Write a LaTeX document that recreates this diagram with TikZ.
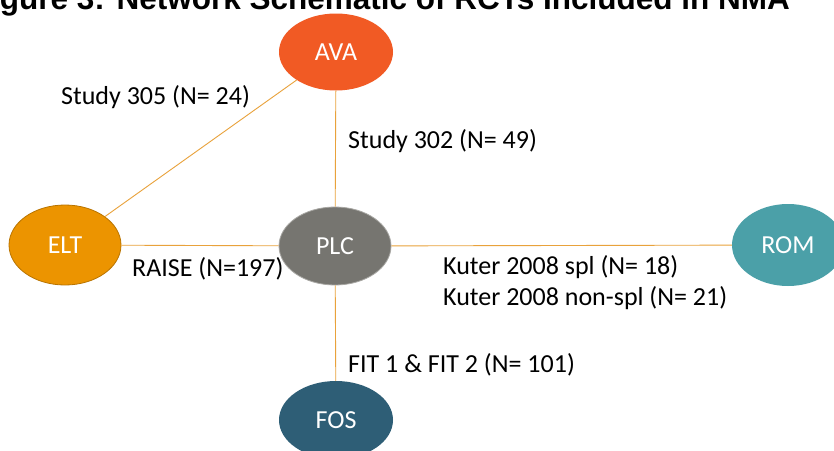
\documentclass[tikz,border=0pt]{standalone}
\usepackage{fontspec}
\setmainfont{Carlito}
\newfontfamily\titlefont{Liberation Sans}
\usetikzlibrary{shapes.geometric}
\definecolor{cAVA}{HTML}{F15A24}
\definecolor{cELT}{HTML}{EC9400}
\definecolor{cELTb}{HTML}{B97400}
\definecolor{cPLC}{HTML}{767570}
\definecolor{cPLCb}{HTML}{A8A7A3}
\definecolor{cROM}{HTML}{4BA0A8}
\definecolor{cFOS}{HTML}{2E5E76}
\definecolor{cEdge}{HTML}{E9A23B}
\tikzset{
  trt/.style={ellipse, minimum width=112pt, minimum height=78pt, inner sep=0pt,
    text=white, font=\fontsize{26}{30}\selectfont},
  link/.style={draw=cEdge, line width=0.9pt},
  lab/.style={anchor=base west, inner sep=0pt, font=\fontsize{26}{30}\selectfont, text=black},
}
\begin{document}
\begin{tikzpicture}[x=1pt,y=-1pt]
\useasboundingbox (0,0) rectangle (834,450);
\clip (0,0) rectangle (834,450);
\fill[white] (0,0) rectangle (834,450);
% title (cut off at the top, as in the reference)
\node[anchor=base east, inner sep=0pt, font=\titlefont\bfseries\fontsize{31.5}{36}\selectfont] (title) at (790,9) {Figure 3: Network Schematic of RCTs Included in NMA};
% treatments
\node[trt, fill=cAVA, minimum height=77pt, minimum width=114pt] (AVA) at (336,52) {AVA};
\node[trt, fill=cELT, draw=cELTb, line width=0.8pt, minimum height=80pt] (ELT) at (65,245) {ELT};
\node[trt, fill=cPLC, draw=cPLCb, line width=0.8pt] (PLC) at (335,246) {PLC};
\node[trt, fill=cROM, minimum height=82pt] (ROM) at (788,245) {ROM};
\node[trt, fill=cFOS, minimum width=114pt] (FOS) at (336,420) {FOS};
% connections
\draw[link] (AVA) -- (ELT);
\draw[link] (AVA) -- (PLC);
\draw[link] (ELT) -- (PLC);
\draw[link] (PLC) -- (ROM);
\draw[link] (PLC) -- (FOS);
% labels
\node[lab] (l305) at (61,104) {Study 305 (N= 24)};
\node[lab] (l302) at (348,148) {Study 302 (N= 49)};
\node[lab] (lraise) at (132,276) {RAISE (N=197)};
\node[lab] (lkutA) at (443,274) {Kuter 2008 spl (N= 18)};
\node[lab] (lkutB) at (443,305) {Kuter 2008 non-spl (N= 21)};
\node[lab] (lfit) at (348,372) {FIT 1 \& FIT 2 (N= 101)};
\end{tikzpicture}
\end{document}
